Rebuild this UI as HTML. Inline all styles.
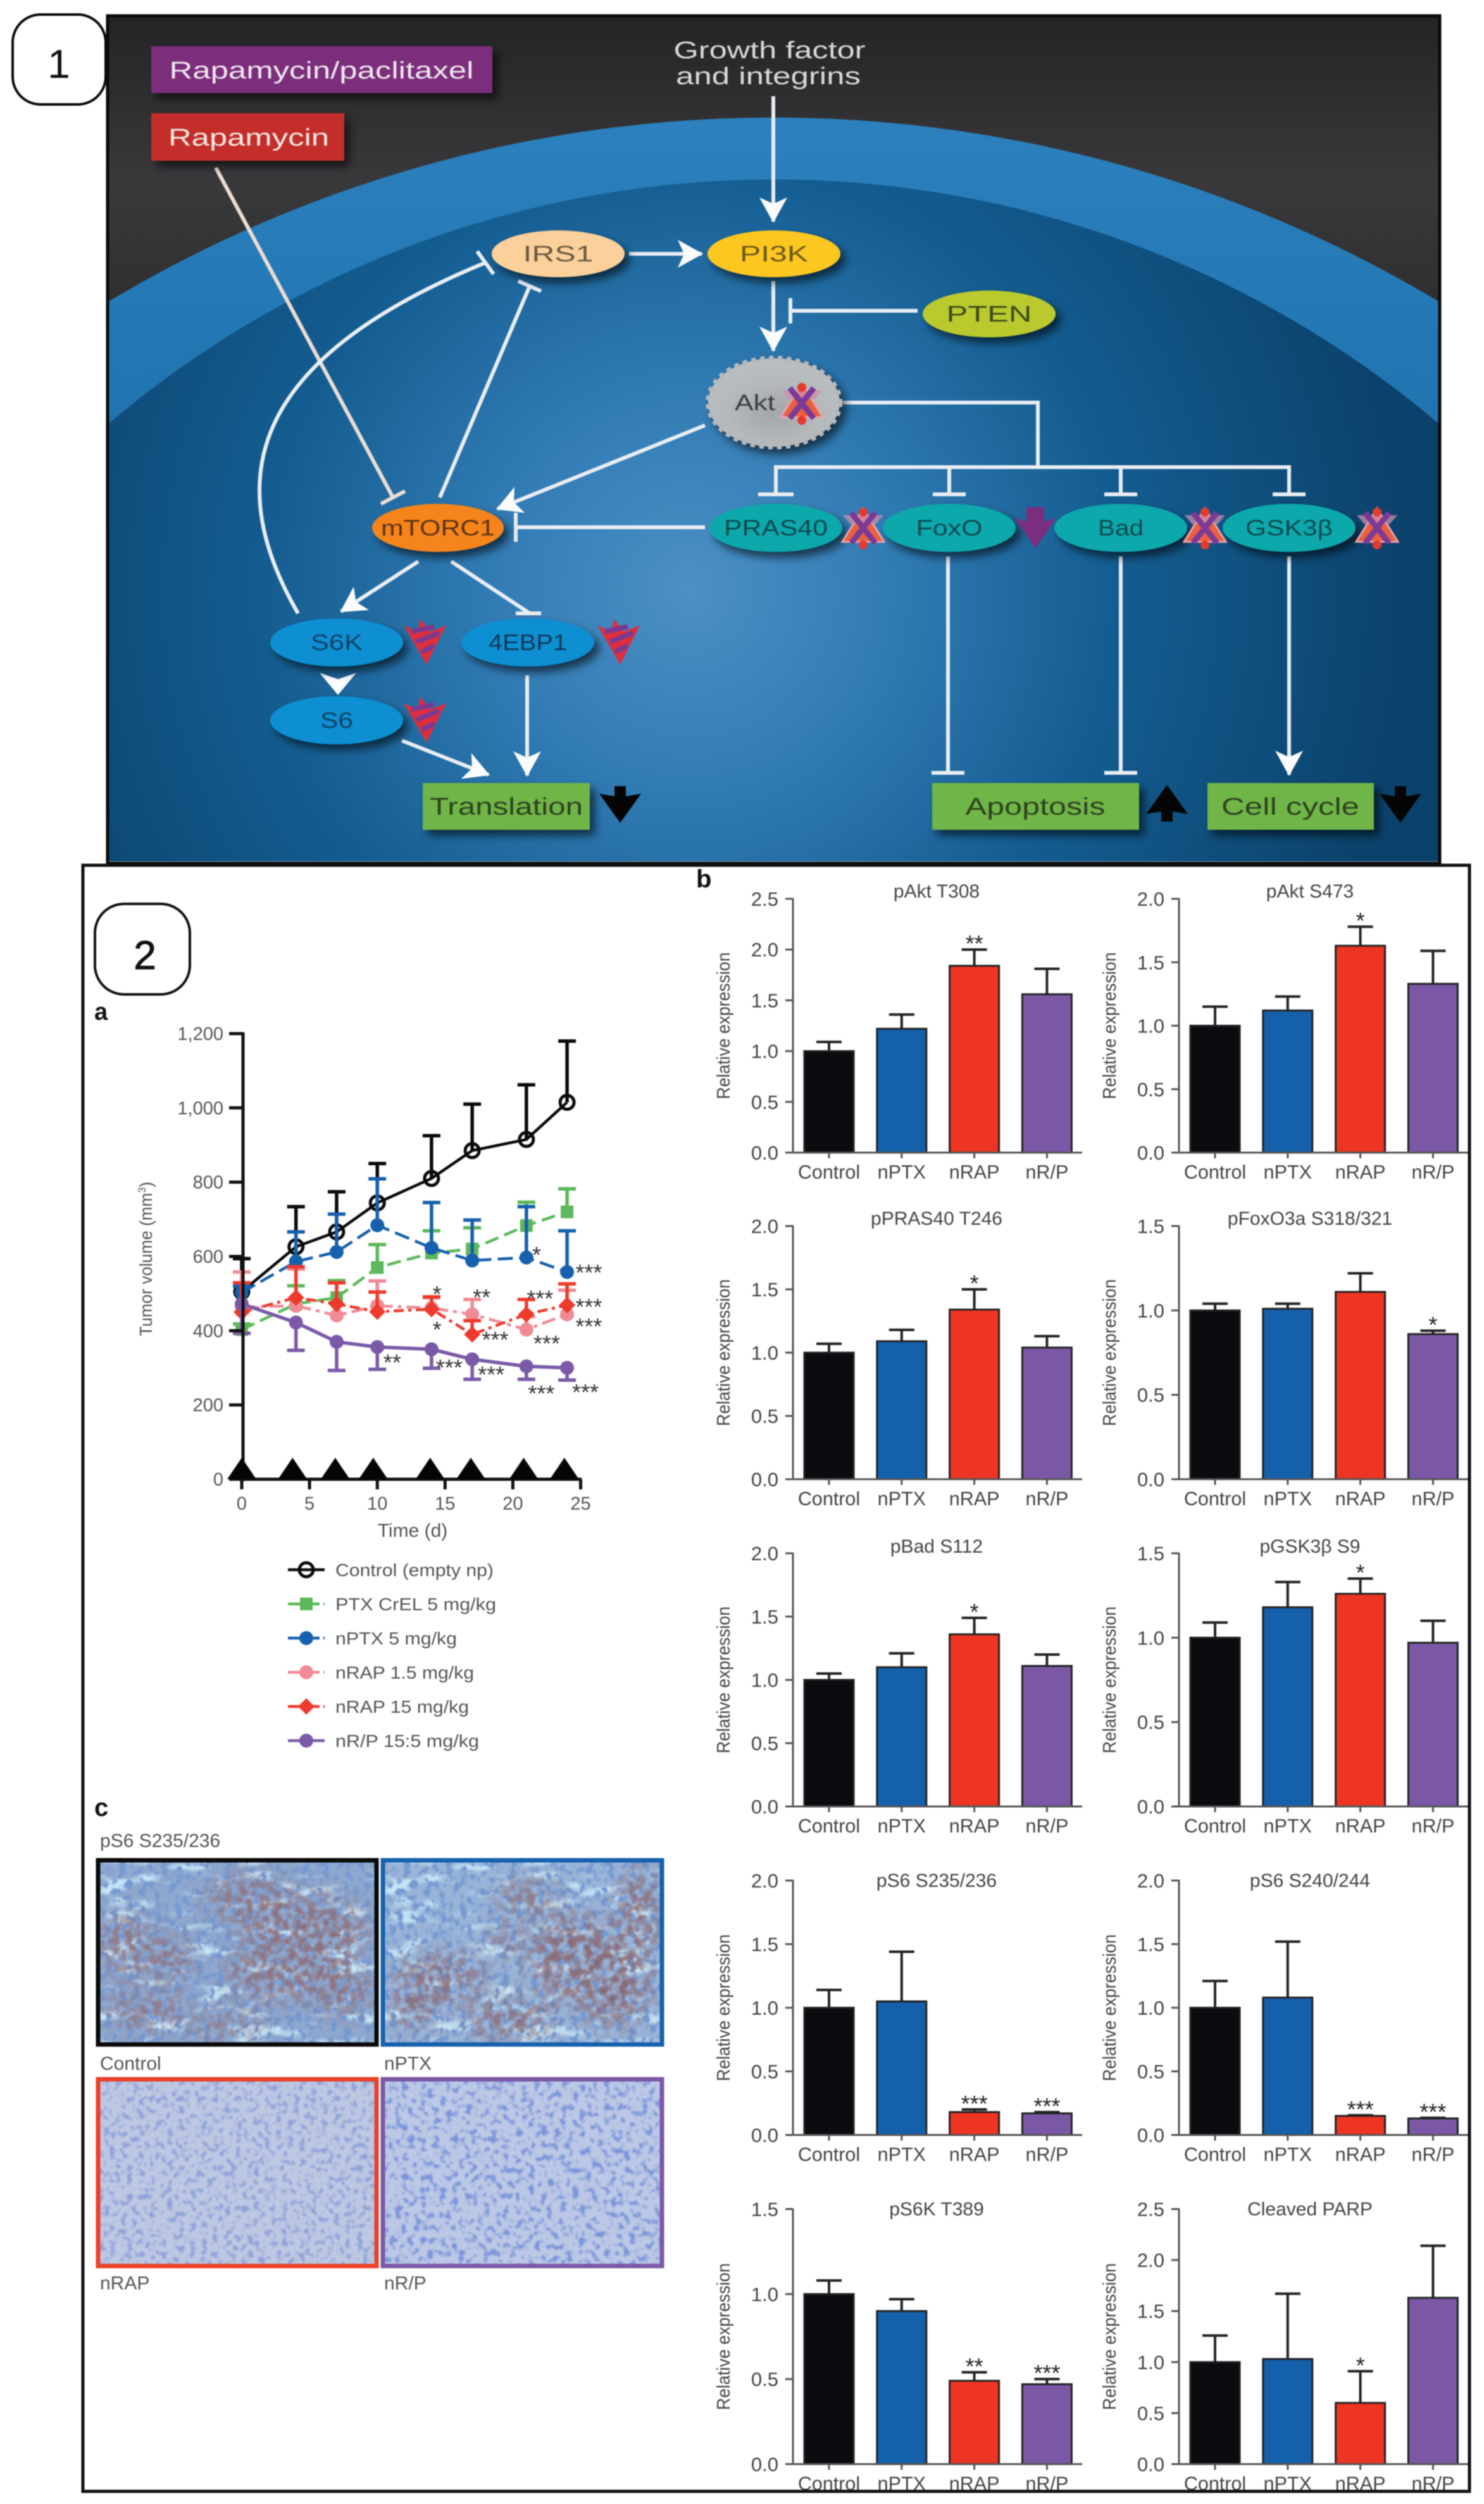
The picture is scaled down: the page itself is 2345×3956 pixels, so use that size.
<!DOCTYPE html>
<html lang="en">
<head>
<meta charset="utf-8">
<title>Rapamycin pathway and tumor response figure</title>
<style>
html,body{margin:0;padding:0;background:#fff;width:2345px;height:3956px;overflow:hidden}
svg{display:block;font-family:"Liberation Sans","DejaVu Sans",sans-serif}
#figure{filter:blur(.8px)}
.wl{stroke:#e9edf3;stroke-width:6;fill:none}
.nt{font-size:35px;text-anchor:middle;fill:#243640}
</style>
</head>
<body>
<svg id="figure" xmlns="http://www.w3.org/2000/svg" width="2345" height="3956" viewBox="0 0 2345 3956">
<defs>
  <clipPath id="top-clip"><rect x="172" y="25" width="2101" height="1336"/></clipPath>
  <linearGradient id="bg-grad" x1="0" y1="0" x2="0" y2="1"><stop offset="0" stop-color="#242426"/><stop offset=".2" stop-color="#39393c"/><stop offset=".4" stop-color="#2a2a2c"/></linearGradient>
  <linearGradient id="band-grad" x1="0" y1="0" x2="0" y2="1"><stop offset="0" stop-color="#2c80bd"/><stop offset=".45" stop-color="#1e72ae"/><stop offset="1" stop-color="#1c6ea8"/></linearGradient>
  <radialGradient id="cell-grad" gradientUnits="userSpaceOnUse" cx="1090" cy="930" r="1130"><stop offset="0" stop-color="#4b90c6"/><stop offset=".3" stop-color="#2f79b2"/><stop offset=".6" stop-color="#135c90"/><stop offset="1" stop-color="#0b426b"/></radialGradient>
  <radialGradient id="akt-grad" cx=".5" cy=".62" r=".55"><stop offset="0" stop-color="#a3a6aa"/><stop offset=".6" stop-color="#b5b8ba"/><stop offset="1" stop-color="#babdbf"/></radialGradient>
  <filter id="shadow" x="-30%" y="-30%" width="170%" height="170%"><feDropShadow dx="8" dy="9" stdDeviation="7" flood-color="#000" flood-opacity=".6"/></filter>
  <filter id="soft" x="-60%" y="-60%" width="220%" height="220%"><feGaussianBlur stdDeviation="20"/></filter>
  <marker id="arrow" markerUnits="userSpaceOnUse" viewBox="0 0 50 50" refX="44" refY="25" markerWidth="50" markerHeight="50" orient="auto"><path d="M6 3 L46 25 L6 47 L16 25 Z" fill="#fbfcfd"/></marker>

  <g id="x-mark">
    <path d="M-33 22 L0 -31 L33 22 Z" fill="#e8603f" stroke="#e9a3a9" stroke-width="3"/>
    <path d="M-32 -20 L32 -20 L20 -6 L-20 -6 Z" fill="#cc8ea9" opacity=".75"/>
    <path d="M-19 -24 L19 24 M19 -24 L-19 24" stroke="#7b3a96" stroke-width="9"/>
    <circle cx="0" cy="-25" r="7" fill="#e23a2e"/><circle cx="0" cy="27" r="7" fill="#e23a2e"/>
  </g>
  <g id="wedge">
    <path d="M-34 -24 L-12 -14 L-8 -34 L8 -14 L33 -24 L2 38 Z" fill="#e02d3c"/>
    <path d="M-22 -14 L14 -22 M-14 2 L22 -12 M-6 18 L14 8 " stroke="#7b3a8f" stroke-width="8" fill="none"/>
  </g>
  <path id="down-arrow" d="M-9 -28 L9 -28 L9 -12 L33 -16 L0 30 L-33 -16 L-9 -12 Z" fill="#050505"/>

  <mask id="control-stain-mask" maskUnits="userSpaceOnUse" x="0" y="0" width="440" height="291">
    <g filter="url(#soft)" fill="#fff">
      <ellipse cx="328" cy="112" rx="100" ry="60"/><ellipse cx="238" cy="60" rx="70" ry="36"/>
      <ellipse cx="44" cy="134" rx="42" ry="50"/><ellipse cx="116" cy="156" rx="36" ry="36"/>
      <ellipse cx="74" cy="237" rx="65" ry="28"/><ellipse cx="298" cy="178" rx="100" ry="44"/>
      <ellipse cx="389" cy="208" rx="50" ry="36"/><ellipse cx="200" cy="260" rx="70" ry="20"/>
    </g>
  </mask>
  <mask id="nptx-stain-mask" maskUnits="userSpaceOnUse" x="0" y="0" width="441" height="291">
    <g filter="url(#soft)" fill="#fff">
      <ellipse cx="303" cy="156" rx="70" ry="70"/><ellipse cx="364" cy="193" rx="62" ry="70"/>
      <ellipse cx="406" cy="83" rx="36" ry="70"/><ellipse cx="91" cy="186" rx="70" ry="36"/>
      <ellipse cx="200" cy="252" rx="70" ry="30"/><ellipse cx="230" cy="60" rx="48" ry="26"/>
      <ellipse cx="48" cy="230" rx="36" ry="36"/><ellipse cx="194" cy="127" rx="28" ry="22"/>
    </g>
  </mask>
  <filter id="ihc-brown-a" x="0" y="0" width="1" height="1" color-interpolation-filters="sRGB">
    <feTurbulence type="fractalNoise" baseFrequency="0.09" numOctaves="2" seed="5"/>
    <feColorMatrix values="0 0 0 0 .56 0 0 0 0 .42 0 0 0 0 .45 4 0 0 0 -1.5"/>
    <feGaussianBlur stdDeviation="1.2"/>
  </filter>
  <filter id="ihc-brown-b" x="0" y="0" width="1" height="1" color-interpolation-filters="sRGB">
    <feTurbulence type="fractalNoise" baseFrequency="0.075" numOctaves="2" seed="9"/>
    <feColorMatrix values="0 0 0 0 .54 0 0 0 0 .38 0 0 0 0 .4 4 0 0 0 -1.5"/>
    <feGaussianBlur stdDeviation="1.2"/>
  </filter>
  <filter id="ihc-cells-dense" x="0" y="0" width="1" height="1" color-interpolation-filters="sRGB">
    <feTurbulence type="fractalNoise" baseFrequency="0.09" numOctaves="2" seed="4"/>
    <feColorMatrix values="0 0 0 0 .46 0 0 0 0 .6 0 0 0 0 .82 5 0 0 0 -2.4"/>
    <feGaussianBlur stdDeviation=".9"/>
  </filter>
  <filter id="ihc-streaks" x="0" y="0" width="1" height="1" color-interpolation-filters="sRGB">
    <feTurbulence type="fractalNoise" baseFrequency="0.014 0.05" numOctaves="2" seed="7"/>
    <feColorMatrix values="0 0 0 0 .78 0 0 0 0 .9 0 0 0 0 .97 6 0 0 0 -3.2"/>
    <feGaussianBlur stdDeviation="1.2"/>
  </filter>
  <filter id="ihc-cells-a" x="0" y="0" width="1" height="1" color-interpolation-filters="sRGB">
    <feTurbulence type="fractalNoise" baseFrequency="0.11" numOctaves="2" seed="14"/>
    <feColorMatrix values="0 0 0 0 .56 0 0 0 0 .63 0 0 0 0 .85 6 0 0 0 -3.1"/>
    <feGaussianBlur stdDeviation="1"/>
  </filter>
  <filter id="ihc-cells-b" x="0" y="0" width="1" height="1" color-interpolation-filters="sRGB">
    <feTurbulence type="fractalNoise" baseFrequency="0.1" numOctaves="2" seed="31"/>
    <feColorMatrix values="0 0 0 0 .48 0 0 0 0 .58 0 0 0 0 .85 6 0 0 0 -3.1"/>
    <feGaussianBlur stdDeviation="1"/>
  </filter>
</defs>

<rect x="0" y="0" width="2345" height="3956" fill="#fff"/>

<g clip-path="url(#top-clip)">
  <rect x="172" y="25" width="2101" height="1336" fill="url(#bg-grad)"/>
  <path d="M172 1361 V476 A2046 2046 0 0 1 2273 476 V1361 Z" fill="url(#band-grad)"/>
  <path d="M172 1361 V669 A1624 1624 0 0 1 2273 669 V1361 Z" fill="url(#cell-grad)"/>

  <g>
    <path class="wl" d="M1222 152 V350" marker-end="url(#arrow)"/>
    <path class="wl" d="M994 401 H1109" marker-end="url(#arrow)"/>
    <path class="wl" d="M1222 444 V554" marker-end="url(#arrow)"/>
    <path class="wl" d="M1450 491 H1249 M1249 471 V511"/>
    <path class="wl" style="stroke:#ecdcd2" d="M341 265 L621 786 M602 796 L640 776"/>
    <path class="wl" d="M471 969 C350 760 390 570 767 415 M754 397 L780 433"/>
    <path class="wl" d="M695 786 L837 452 M819 444 L855 460"/>
    <path class="wl" d="M1114 672 L786 804" marker-end="url(#arrow)"/>
    <path class="wl" d="M1331 636 H1640 V738 M1226 781 V738 H2037 V781 M1500 738 V781 M1771 738 V781 M1198 781 H1254 M1474 781 H1526 M1745 781 H1797 M2011 781 H2063"/>
    <path class="wl" d="M1114 833 H815 M815 810 V856"/>
    <path class="wl" d="M661 887 L539 966" marker-end="url(#arrow)"/>
    <path class="wl" d="M713 887 L837 969 M815 969 H855"/>
    <path class="wl" d="M635 1170 L772 1224" marker-end="url(#arrow)"/>
    <path class="wl" d="M833 1067 V1225" marker-end="url(#arrow)"/>
    <path class="wl" d="M1498 879 V1221 M1472 1221 H1524"/>
    <path class="wl" d="M1771 879 V1221 M1745 1221 H1797"/>
    <path class="wl" d="M2037 879 V1224" marker-end="url(#arrow)"/>
    <path d="M505 1063 L534 1073 L563 1063 L534 1098 Z" fill="#fbfcfd"/>
  </g>

  <rect x="239" y="73" width="539" height="74" fill="#7b2f7c" filter="url(#shadow)"/>
  <text x="508" y="124" font-size="38" fill="#eee6ee" text-anchor="middle" textLength="481" lengthAdjust="spacingAndGlyphs">Rapamycin/paclitaxel</text>
  <rect x="239" y="179" width="305" height="75" fill="#c42f2c" filter="url(#shadow)"/>
  <text x="393" y="230" font-size="38" fill="#f6e6e2" text-anchor="middle" textLength="254" lengthAdjust="spacingAndGlyphs">Rapamycin</text>
  <text x="1216" y="92" font-size="38" fill="#d8d8d8" text-anchor="middle" textLength="303" lengthAdjust="spacingAndGlyphs">Growth factor</text>
  <text x="1214" y="133" font-size="38" fill="#d8d8d8" text-anchor="middle" textLength="292" lengthAdjust="spacingAndGlyphs">and integrins</text>

  <ellipse cx="882" cy="401" rx="105" ry="37" fill="#fbd09a" filter="url(#shadow)"/>
  <text class="nt" x="882" y="413" textLength="111" lengthAdjust="spacingAndGlyphs" style="fill:#6b5a44">IRS1</text>
  <ellipse cx="1223" cy="401" rx="105" ry="37" fill="#fdc722" filter="url(#shadow)"/>
  <text class="nt" x="1223" y="413" textLength="108" lengthAdjust="spacingAndGlyphs" style="fill:#6d5a14">PI3K</text>
  <ellipse cx="1563" cy="496" rx="105" ry="37" fill="#b9c92e" filter="url(#shadow)"/>
  <text class="nt" x="1563" y="508" textLength="135" lengthAdjust="spacingAndGlyphs" style="fill:#3f4a18">PTEN</text>

  <g filter="url(#shadow)">
    <ellipse cx="1223" cy="636" rx="104" ry="70" fill="url(#akt-grad)" stroke="#b6b9bc" stroke-width="8" stroke-dasharray="7 7"/>
  </g>
  <text class="nt" x="1193" y="648" textLength="64" lengthAdjust="spacingAndGlyphs" style="fill:#3c3e40">Akt</text>
  <use href="#x-mark" transform="translate(1267 637)"/>

  <ellipse cx="1226" cy="834" rx="105" ry="38" fill="#0fa8ac" filter="url(#shadow)"/>
  <text class="nt" x="1226" y="846" textLength="164" lengthAdjust="spacingAndGlyphs" style="fill:#0c4a50">PRAS40</text>
  <ellipse cx="1500" cy="834" rx="105" ry="38" fill="#0fa8ac" filter="url(#shadow)"/>
  <text class="nt" x="1500" y="846" textLength="105" lengthAdjust="spacingAndGlyphs" style="fill:#0c4a50">FoxO</text>
  <ellipse cx="1771" cy="834" rx="105" ry="38" fill="#0fa8ac" filter="url(#shadow)"/>
  <text class="nt" x="1771" y="846" textLength="72" lengthAdjust="spacingAndGlyphs" style="fill:#0c4a50">Bad</text>
  <ellipse cx="2037" cy="834" rx="105" ry="38" fill="#0fa8ac" filter="url(#shadow)"/>
  <text class="nt" x="2037" y="846" textLength="138" lengthAdjust="spacingAndGlyphs" style="fill:#0c4a50">GSK3β</text>
  <use href="#x-mark" transform="translate(1364 834)"/>
  <use href="#x-mark" transform="translate(1904 834)"/>
  <use href="#x-mark" transform="translate(2176 834)"/>
  <path d="M1603 818 L1622 824 L1622 801 L1650 801 L1650 824 L1669 818 L1636 866 Z" fill="#7c2e7e"/>

  <ellipse cx="692" cy="834" rx="104" ry="38" fill="#f5841f" filter="url(#shadow)"/>
  <text class="nt" x="692" y="846" textLength="180" lengthAdjust="spacingAndGlyphs" style="fill:#5e3412">mTORC1</text>
  <ellipse cx="532" cy="1015" rx="105" ry="38" fill="#0b8fd2" filter="url(#shadow)"/>
  <text class="nt" x="532" y="1027" textLength="82" lengthAdjust="spacingAndGlyphs" style="fill:#0d4468">S6K</text>
  <ellipse cx="834" cy="1015" rx="105" ry="38" fill="#0b8fd2" filter="url(#shadow)"/>
  <text class="nt" x="834" y="1027" textLength="124" lengthAdjust="spacingAndGlyphs" style="fill:#0d3a58">4EBP1</text>
  <ellipse cx="532" cy="1138" rx="105" ry="38" fill="#0b8fd2" filter="url(#shadow)"/>
  <text class="nt" x="532" y="1150" textLength="52" lengthAdjust="spacingAndGlyphs" style="fill:#0d4468">S6</text>
  <use href="#wedge" transform="translate(672 1012)"/>
  <use href="#wedge" transform="translate(978 1012)"/>
  <use href="#wedge" transform="translate(672 1135)"/>

  <rect x="668" y="1237" width="264" height="74" fill="#6fb546" filter="url(#shadow)"/>
  <text x="800" y="1287" font-size="38" fill="#2e4320" text-anchor="middle" textLength="242" lengthAdjust="spacingAndGlyphs">Translation</text>
  <rect x="1473" y="1237" width="327" height="74" fill="#6fb546" filter="url(#shadow)"/>
  <text x="1636" y="1287" font-size="38" fill="#2e4320" text-anchor="middle" textLength="221" lengthAdjust="spacingAndGlyphs">Apoptosis</text>
  <rect x="1908" y="1237" width="263" height="74" fill="#6fb546" filter="url(#shadow)"/>
  <text x="2039" y="1287" font-size="38" fill="#2e4320" text-anchor="middle" textLength="218" lengthAdjust="spacingAndGlyphs">Cell cycle</text>
  <use href="#down-arrow" transform="translate(980 1270)"/>
  <use href="#down-arrow" transform="translate(1844 1270) scale(1 -1)"/>
  <use href="#down-arrow" transform="translate(2213 1270)"/>
</g>
<rect x="170" y="25" width="2105" height="1339" fill="none" stroke="#0a0a0a" stroke-width="5"/>

<rect x="20" y="23" width="147" height="142" rx="44" fill="#fff" stroke="#0a0a0a" stroke-width="4"/>
<text x="93" y="123" font-size="64" text-anchor="middle" fill="#111">1</text>

<g id="lower-panel">
  <rect x="131" y="1367" width="2191" height="2569" fill="#fff"/>
  <rect x="150" y="1428" width="150" height="143" rx="46" fill="#fff" stroke="#111" stroke-width="4"/>
  <text x="229" y="1531" font-size="64" text-anchor="middle" fill="#111" stroke="#111" stroke-width="1">2</text>
  <text x="149" y="1611" font-size="38" font-weight="bold" fill="#111">a</text>
  <text x="1100" y="1402" font-size="40" font-weight="bold" fill="#111">b</text>
  <text x="149" y="2869" font-size="40" font-weight="bold" fill="#111">c</text>

  <g id="tumor-chart"></g>
  <g id="bar-charts"></g>

  <g>
    <text x="158" y="2918" font-size="30" fill="#555">pS6 S235/236</text>

    <svg x="155" y="2939" width="440" height="291" viewBox="0 0 440 291">
      <rect width="440" height="291" fill="#8fa8cf"/>
      <rect width="440" height="291" filter="url(#ihc-streaks)"/>
      <rect width="440" height="291" filter="url(#ihc-cells-dense)"/>
      <g mask="url(#control-stain-mask)" opacity=".85">
        <rect width="440" height="291" filter="url(#ihc-brown-a)"/>
      </g>
    </svg>
    <rect x="155" y="2939" width="440" height="291" fill="none" stroke="#0a0a0a" stroke-width="7"/>

    <svg x="605" y="2939" width="441" height="291" viewBox="0 0 441 291">
      <rect width="441" height="291" fill="#9ab4d8"/>
      <rect width="441" height="291" filter="url(#ihc-streaks)"/>
      <rect width="441" height="291" filter="url(#ihc-cells-dense)"/>
      <g mask="url(#nptx-stain-mask)" opacity=".85">
        <rect width="441" height="291" filter="url(#ihc-brown-b)"/>
      </g>
    </svg>
    <rect x="605" y="2939" width="441" height="291" fill="none" stroke="#1761ad" stroke-width="7"/>

    <svg x="155" y="3285" width="440" height="295" viewBox="0 0 440 295">
      <rect width="440" height="295" fill="#bec8e3"/>
      <rect width="440" height="295" filter="url(#ihc-cells-a)"/>
    </svg>
    <rect x="155" y="3285" width="440" height="295" fill="none" stroke="#ea4128" stroke-width="7"/>

    <svg x="605" y="3285" width="441" height="295" viewBox="0 0 441 295">
      <rect width="441" height="295" fill="#bcc8e5"/>
      <rect width="441" height="295" filter="url(#ihc-cells-b)"/>
    </svg>
    <rect x="605" y="3285" width="441" height="295" fill="none" stroke="#7b59a6" stroke-width="7"/>

    <text x="158" y="3270" font-size="30" fill="#555">Control</text>
    <text x="607" y="3270" font-size="30" fill="#555">nPTX</text>
    <text x="158" y="3617" font-size="30" fill="#555">nRAP</text>
    <text x="607" y="3617" font-size="30" fill="#555">nR/P</text>
  </g>

  <rect id="results-frame" x="131" y="1367" width="2191" height="2569" fill="none" stroke="#111" stroke-width="5"/>
</g>
</svg>

<script>
/* ---------- Tumor volume chart data (panel a) ---------- */
const days = [0, 4, 7, 10, 14, 17, 21, 24];
const dosingDays = [0, 3.75, 6.9, 9.7, 13.9, 16.9, 20.8, 23.8];
const volumeTicks = [0, 200, 400, 600, 800, 1000, 1200];
const volumeTickLabels = ['0', '200', '400', '600', '800', '1,000', '1,200'];
const timeTicks = [0, 5, 10, 15, 20, 25];

const controlMean = [505, 626, 666, 744, 810, 885, 915, 1015];
const controlErrorEnd = [594, 734, 774, 850, 925, 1010, 1062, 1180];
const ptxMean = [403, 472, 489, 570, 609, 620, 683, 720];
const ptxErrorEnd = [418, 521, 535, 632, 669, 677, 746, 782];
const nptxMean = [503, 586, 612, 684, 623, 589, 597, 558];
const nptxErrorEnd = [520, 666, 714, 809, 745, 698, 734, 669];
const nrapLowMean = [464, 467, 441, 467, 461, 444, 403, 444];
const nrapLowErrorEnd = [558, 566, 529, 534, 489, 484, 438, 509];
const nrapHighMean = [450, 489, 472, 451, 458, 390, 444, 469];
const nrapHighErrorEnd = [529, 572, 529, 504, 491, 427, 484, 526];
const nrpMean = [472, 422, 370, 356, 350, 323, 304, 300];
const nrpErrorEnd = [393, 347, 293, 296, 299, 269, 269, 267];

const seriesLabels = ['Control (empty np)', 'PTX CrEL 5 mg/kg', 'nPTX 5 mg/kg', 'nRAP 1.5 mg/kg', 'nRAP 15 mg/kg', 'nR/P 15:5 mg/kg'];
const seriesMeans = [controlMean, ptxMean, nptxMean, nrapLowMean, nrapHighMean, nrpMean];
const seriesErrorEnds = [controlErrorEnd, ptxErrorEnd, nptxErrorEnd, nrapLowErrorEnd, nrapHighErrorEnd, nrpErrorEnd];

const starDays = [25.6, 21.75, 14.4, 17.7, 22, 25.6, 25.6, 14.4, 18.7, 22.5, 11.1, 15.3, 18.4, 22.1, 25.35];
const starValues = [569, 617, 511, 503, 499, 477, 424, 416, 389, 378, 327, 314, 295, 244, 247];
const starMarks = ['***', '*', '*', '**', '***', '***', '***', '*', '***', '***', '**', '***', '***', '***', '***'];

/* ---------- Bar chart data (panel b) ---------- */
const groups = ['Control', 'nPTX', 'nRAP', 'nR/P'];

const pAktT308Means = [1.0, 1.22, 1.84, 1.56];
const pAktT308Errors = [1.09, 1.36, 2.0, 1.81];
const pAktT308Stars = ['', '', '**', ''];
const pAktS473Means = [1.0, 1.12, 1.63, 1.33];
const pAktS473Errors = [1.15, 1.23, 1.78, 1.59];
const pAktS473Stars = ['', '', '*', ''];
const pPras40Means = [1.0, 1.09, 1.34, 1.04];
const pPras40Errors = [1.07, 1.18, 1.5, 1.13];
const pPras40Stars = ['', '', '*', ''];
const pFoxoMeans = [1.0, 1.01, 1.11, 0.86];
const pFoxoErrors = [1.04, 1.04, 1.22, 0.88];
const pFoxoStars = ['', '', '', '*'];
const pBadMeans = [1.0, 1.1, 1.36, 1.11];
const pBadErrors = [1.05, 1.21, 1.49, 1.2];
const pBadStars = ['', '', '*', ''];
const pGskMeans = [1.0, 1.18, 1.26, 0.97];
const pGskErrors = [1.09, 1.33, 1.35, 1.1];
const pGskStars = ['', '', '*', ''];
const pS6aMeans = [1.0, 1.05, 0.18, 0.17];
const pS6aErrors = [1.14, 1.44, 0.2, 0.18];
const pS6aStars = ['', '', '***', '***'];
const pS6bMeans = [1.0, 1.08, 0.15, 0.13];
const pS6bErrors = [1.21, 1.52, 0.155, 0.135];
const pS6bStars = ['', '', '***', '***'];
const pS6kMeans = [1.0, 0.9, 0.49, 0.47];
const pS6kErrors = [1.08, 0.97, 0.54, 0.5];
const pS6kStars = ['', '', '**', '***'];
const parpMeans = [1.0, 1.03, 0.6, 1.63];
const parpErrors = [1.26, 1.67, 0.91, 2.14];
const parpStars = ['', '', '*', ''];

const barCharts = [
  { title: 'pAkt T308', max: 2.5, means: pAktT308Means, errors: pAktT308Errors, stars: pAktT308Stars },
  { title: 'pAkt S473', max: 2.0, means: pAktS473Means, errors: pAktS473Errors, stars: pAktS473Stars },
  { title: 'pPRAS40 T246', max: 2.0, means: pPras40Means, errors: pPras40Errors, stars: pPras40Stars },
  { title: 'pFoxO3a S318/321', max: 1.5, means: pFoxoMeans, errors: pFoxoErrors, stars: pFoxoStars },
  { title: 'pBad S112', max: 2.0, means: pBadMeans, errors: pBadErrors, stars: pBadStars },
  { title: 'pGSK3β S9', max: 1.5, means: pGskMeans, errors: pGskErrors, stars: pGskStars },
  { title: 'pS6 S235/236', max: 2.0, means: pS6aMeans, errors: pS6aErrors, stars: pS6aStars },
  { title: 'pS6 S240/244', max: 2.0, means: pS6bMeans, errors: pS6bErrors, stars: pS6bStars },
  { title: 'pS6K T389', max: 1.5, means: pS6kMeans, errors: pS6kErrors, stars: pS6kStars },
  { title: 'Cleaved PARP', max: 2.5, means: parpMeans, errors: parpErrors, stars: parpStars }
];

/* ---------- Drawing ---------- */
const NS = 'http://www.w3.org/2000/svg';
function add(parent, tag, attrs, content) {
  const el = document.createElementNS(NS, tag);
  for (const k in attrs) el.setAttribute(k, attrs[k]);
  if (content !== undefined) el.textContent = content;
  parent.appendChild(el);
  return el;
}
function slug(s) {
  return s.toLowerCase().replace(/[^a-z0-9]+/g, '-').replace(/^-|-$/g, '');
}

/* Panel a */
const tumorRoot = document.getElementById('tumor-chart');
const xDay = d => 382 + 21.42 * d;
const yVol = v => 2337 - 0.5867 * v;
const seriesColors = ['#0a0a0a', '#5cb85a', '#1660ad', '#f08a94', '#ee3a2c', '#7a5aa8'];
const seriesDashes = ['', '22 10', '24 10', '22 8 6 8', '16 7 5 7', ''];
const legendTextWidths = [250, 254, 192, 219, 211, 227];

function marker(parent, i, x, y) {
  const c = seriesColors[i];
  let m;
  if (i === 0) {
    m = add(parent, 'circle', { cx: x, cy: y, r: 11, fill: 'none', stroke: c, 'stroke-width': 5 });
  } else if (i === 1) {
    m = add(parent, 'rect', { x: x - 10, y: y - 10, width: 20, height: 20, fill: c });
  } else if (i === 4) {
    m = add(parent, 'polygon', { points: [x, y - 13, x + 13, y, x, y + 13, x - 13, y].join(' '), fill: c });
  } else {
    m = add(parent, 'circle', { cx: x, cy: y, r: 11, fill: c });
  }
  
  
}

seriesLabels.forEach((label, i) => {
  const g = add(tumorRoot, 'g', {});
  
  
  days.forEach((d, j) => {
    const x = xDay(d);
    const y0 = yVol(seriesMeans[i][j]);
    const y1 = yVol(seriesErrorEnds[i][j]);
    const eb = add(g, 'path', { d: `M${x} ${y0} V${y1} M${x - 14} ${y1} H${x + 14}`, stroke: seriesColors[i], 'stroke-width': 5.5, fill: 'none' });
    
    
  });
  const pts = days.map((d, j) => xDay(d) + ',' + yVol(seriesMeans[i][j])).join(' ');
  const line = add(g, 'polyline', { points: pts, fill: 'none', stroke: seriesColors[i], 'stroke-width': i === 5 ? 5.5 : 4.5, 'stroke-dasharray': seriesDashes[i] });
  
  
  days.forEach((d, j) => marker(g, i, xDay(d), yVol(seriesMeans[i][j])));
});

const yAxisLine = add(tumorRoot, 'line', { x1: 384, y1: yVol(1200) - 2, x2: 384, y2: 2340, stroke: '#111', 'stroke-width': 5 });


const xAxisLine = add(tumorRoot, 'line', { x1: 362, y1: 2337, x2: 919, y2: 2337, stroke: '#111', 'stroke-width': 5 });



volumeTicks.forEach((v, i) => {
  const t = add(tumorRoot, 'line', { x1: 362, y1: yVol(v), x2: 384, y2: yVol(v), stroke: '#111', 'stroke-width': 5 });
  
  
  const l = add(tumorRoot, 'text', { x: 353, y: yVol(v) + 10, 'font-size': 29, 'text-anchor': 'end', fill: '#555' }, volumeTickLabels[i]);
  
  
});
timeTicks.forEach(d => {
  const t = add(tumorRoot, 'line', { x1: xDay(d), y1: 2337, x2: xDay(d), y2: 2353, stroke: '#111', 'stroke-width': 5 });
  
  
  const l = add(tumorRoot, 'text', { x: xDay(d), y: 2385, 'font-size': 29, 'text-anchor': 'middle', fill: '#555' }, String(d));
  
  
});
dosingDays.forEach(d => {
  const x = xDay(d);
  const tri = add(tumorRoot, 'polygon', { points: `${x - 23},2337 ${x},2303 ${x + 23},2337`, fill: '#050505' });
  
  
});
const xTitle = add(tumorRoot, 'text', { x: 652, y: 2428, 'font-size': 30, 'text-anchor': 'middle', fill: '#555' }, 'Time (d)');


const yTitle = add(tumorRoot, 'text', { transform: 'translate(240 1989) rotate(-90)', 'font-size': 28, 'text-anchor': 'middle', fill: '#555', textLength: 244, lengthAdjust: 'spacingAndGlyphs' });


add(yTitle, 'tspan', {}, 'Tumor volume (mm');
add(yTitle, 'tspan', { 'font-size': 17, dy: -10 }, '3');
add(yTitle, 'tspan', { dy: 10 }, ')');

starMarks.forEach((s, i) => {
  const st = add(tumorRoot, 'text', { x: xDay(starDays[i]), y: yVol(starValues[i]) + 20, 'font-size': 36, 'text-anchor': 'middle', fill: '#333' }, s);
  
  
});

seriesLabels.forEach((label, i) => {
  const y = 2480 + i * 54;
  const g = add(tumorRoot, 'g', {});
  
  
  const l = add(g, 'line', { x1: 455, y1: y, x2: 513, y2: y, stroke: seriesColors[i], 'stroke-width': 4.5, 'stroke-dasharray': i === 0 || i === 5 ? '' : '22 6' });
  
  
  marker(g, i, 484, y);
  const t = add(g, 'text', { x: 530, y: y + 10, 'font-size': 28, fill: '#555', textLength: legendTextWidths[i], lengthAdjust: 'spacingAndGlyphs' }, label);
  
  
});

/* Panel b */
const barRoot = document.getElementById('bar-charts');
const rowTop = [1420, 1937, 2454, 2971, 3490];
const rowBottom = [1821, 2337, 2854, 3373, 3893];
const rowTitleY = [1418, 1935, 2453, 2981, 3500];
const colAxisX = [1253, 1863];
const colAxisEnd = [1710, 2320];
const colTitleX = [1480, 2070];
const colBarCenter = [1310, 1920];
const barColors = ['#0a0c10', '#1560aa', '#ee3524', '#7a58a6'];
const barWidth = 78;
const barStep = 114.8;

barCharts.forEach((chart, index) => {
  const col = index % 2;
  const row = Math.floor(index / 2);
  const top = rowTop[row];
  const bottom = rowBottom[row];
  const ax = colAxisX[col];
  const y = v => bottom - (v / chart.max) * (bottom - top);
  const key = slug(chart.title);
  const g = add(barRoot, 'g', {});
  
  

  const title = add(g, 'text', { x: colTitleX[col], y: rowTitleY[row], 'font-size': 30, 'text-anchor': 'middle', fill: '#444' }, chart.title);
  
  

  chart.means.forEach((m, i) => {
    const cx = colBarCenter[col] + i * barStep;
    const eb = add(g, 'path', { d: `M${cx} ${y(m)} V${y(chart.errors[i])} M${cx - 20} ${y(chart.errors[i])} H${cx + 20}`, stroke: '#222', 'stroke-width': 4, fill: 'none' });
    
    
    const bar = add(g, 'rect', { x: cx - barWidth / 2, y: y(m), width: barWidth, height: bottom - y(m), fill: barColors[i], stroke: '#222', 'stroke-width': 3 });
    
    
    if (chart.stars[i]) {
      const st = add(g, 'text', { x: cx, y: y(chart.errors[i]) + 3, 'font-size': 36, 'text-anchor': 'middle', fill: '#222' }, chart.stars[i]);
      
      
    }
    const tick = add(g, 'line', { x1: cx, y1: bottom, x2: cx, y2: bottom + 9, stroke: '#555', 'stroke-width': 3 });
    
    
    const lab = add(g, 'text', { x: cx, y: bottom + 41, 'font-size': 30.5, 'text-anchor': 'middle', fill: '#444' }, groups[i]);
    
    
  });

  const yAxis = add(g, 'line', { x1: ax, y1: top - 1, x2: ax, y2: bottom + 1, stroke: '#555', 'stroke-width': 3 });
  
  
  const xAxis = add(g, 'line', { x1: ax, y1: bottom, x2: colAxisEnd[col], y2: bottom, stroke: '#555', 'stroke-width': 3 });
  
  

  for (let k = 0; k <= Math.round(chart.max * 2); k++) {
    const v = k / 2;
    const tk = add(g, 'line', { x1: ax - 12, y1: y(v), x2: ax, y2: y(v), stroke: '#555', 'stroke-width': 3 });
    
    
    const tl = add(g, 'text', { x: ax - 23, y: y(v) + 11, 'font-size': 31, 'text-anchor': 'end', fill: '#444' }, v.toFixed(1));
    
    
  }
  const yt = add(g, 'text', { transform: `translate(${ax - 100} ${(top + bottom) / 2}) rotate(-90)`, 'font-size': 28.5, 'text-anchor': 'middle', fill: '#444', textLength: 232, lengthAdjust: 'spacingAndGlyphs' }, 'Relative expression');
  
  
});
</script>
</body>
</html>
